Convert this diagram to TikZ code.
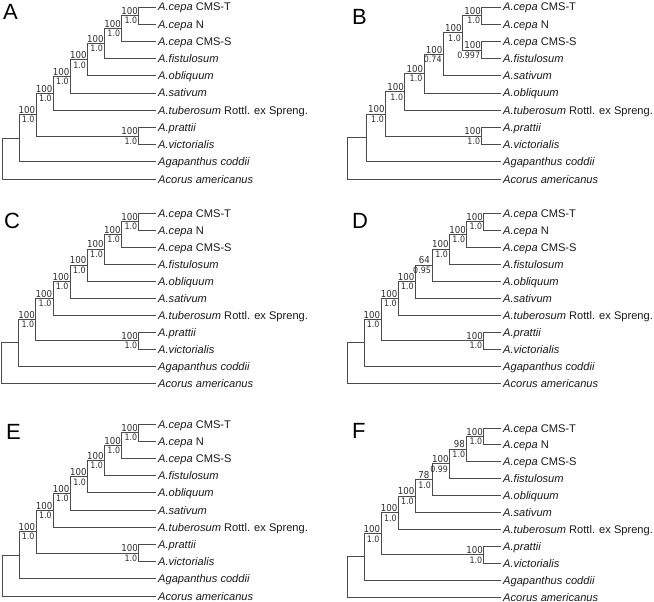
\documentclass[tikz,border=0pt]{standalone}
\usepackage{fontspec}
\setmainfont{Liberation Sans}
\newfontfamily\numfont{DejaVu Sans Condensed}
\definecolor{brcol}{RGB}{75,75,75}
\definecolor{txtcol}{RGB}{25,25,25}
\definecolor{numcol}{RGB}{45,45,45}
\tikzset{
  br/.style={draw=brcol, line width=0.9pt},
  leaftxt/.style={inner sep=0pt, anchor=base west, font=\fontsize{11.1}{13}\selectfont, text=txtcol},
  uplab/.style={inner sep=0pt, anchor=south east, font=\numfont\fontsize{9.6}{10}\selectfont, text=numcol},
  lolab/.style={inner sep=0pt, anchor=north east, font=\numfont\fontsize{8.8}{10}\selectfont, text=numcol},
  panlab/.style={inner sep=0pt, anchor=base west, font=\fontsize{22}{24}\selectfont, text=black},
}
% A-type tree: #1 prefix, #2 x0, #3 level step, #4 first leaf y, #5 leaf step
\newcommand\treeA[5]{%
\begin{scope}[name prefix=#1-]
 \coordinate (root) at (#2, {#4+8.814453*#5});
 \coordinate (n1) at ({#2+1*#3}, {#4+7.628906*#5});
 \coordinate (n2) at ({#2+2*#3}, {#4+6.257813*#5});
 \coordinate (n3) at ({#2+3*#3}, {#4+5.015625*#5});
 \coordinate (n4) at ({#2+4*#3}, {#4+4.03125*#5});
 \coordinate (n5) at ({#2+5*#3}, {#4+3.0625*#5});
 \coordinate (n6) at ({#2+6*#3}, {#4+2.125*#5});
 \coordinate (n7) at ({#2+7*#3}, {#4+1.25*#5});
 \coordinate (n8) at ({#2+8*#3}, {#4+0.5*#5});
 \coordinate (pv) at ({#2+8*#3}, {#4+7.5*#5});
 \coordinate (lT)  at ({#2+9*#3}, {#4+0*#5});
 \coordinate (lN)  at ({#2+9*#3}, {#4+1*#5});
 \coordinate (lS)  at ({#2+9*#3}, {#4+2*#5});
 \coordinate (lfi) at ({#2+9*#3}, {#4+3*#5});
 \coordinate (lob) at ({#2+9*#3}, {#4+4*#5});
 \coordinate (lsa) at ({#2+9*#3}, {#4+5*#5});
 \coordinate (ltu) at ({#2+9*#3}, {#4+6*#5});
 \coordinate (lpr) at ({#2+9*#3}, {#4+7*#5});
 \coordinate (lvi) at ({#2+9*#3}, {#4+8*#5});
 \coordinate (lag) at ({#2+9*#3}, {#4+9*#5});
 \coordinate (lac) at ({#2+9*#3}, {#4+10*#5});
 \node[leaftxt] (T)  at ([xshift=2pt,yshift=-4pt]lT)  {\textit{A.cepa} CMS-T};
 \node[leaftxt] (N)  at ([xshift=2pt,yshift=-4pt]lN)  {\textit{A.cepa} N};
 \node[leaftxt] (S)  at ([xshift=2pt,yshift=-4pt]lS)  {\textit{A.cepa} CMS-S};
 \node[leaftxt] (fi) at ([xshift=2pt,yshift=-4pt]lfi) {\textit{A.fistulosum}};
 \node[leaftxt] (ob) at ([xshift=2pt,yshift=-4pt]lob) {\textit{A.obliquum}};
 \node[leaftxt] (sa) at ([xshift=2pt,yshift=-4pt]lsa) {\textit{A.sativum}};
 \node[leaftxt] (tu) at ([xshift=2pt,yshift=-4pt]ltu) {\textit{A.tuberosum} Rottl. ex Spreng.};
 \node[leaftxt] (pr) at ([xshift=2pt,yshift=-4pt]lpr) {\textit{A.prattii}};
 \node[leaftxt] (vi) at ([xshift=2pt,yshift=-4pt]lvi) {\textit{A.victorialis}};
 \node[leaftxt] (ag) at ([xshift=2pt,yshift=-4pt]lag) {\textit{Agapanthus coddii}};
 \node[leaftxt] (ac) at ([xshift=2pt,yshift=-4pt]lac) {\textit{Acorus americanus}};
 \draw[br] (root) |- (n1); \draw[br] (root) |- (lac);
 \draw[br] (n1) |- (n2);   \draw[br] (n1) |- (lag);
 \draw[br] (n2) |- (n3);   \draw[br] (n2) |- (pv);
 \draw[br] (pv) |- (lpr);  \draw[br] (pv) |- (lvi);
 \draw[br] (n3) |- (n4);   \draw[br] (n3) |- (ltu);
 \draw[br] (n4) |- (n5);   \draw[br] (n4) |- (lsa);
 \draw[br] (n5) |- (n6);   \draw[br] (n5) |- (lob);
 \draw[br] (n6) |- (n7);   \draw[br] (n6) |- (lfi);
 \draw[br] (n7) |- (n8);   \draw[br] (n7) |- (lS);
 \draw[br] (n8) |- (lT);   \draw[br] (n8) |- (lN);
\end{scope}}
% B-type tree
\newcommand\treeB[5]{%
\begin{scope}[name prefix=#1-]
 \coordinate (root) at (#2, {#4+8.804688*#5});
 \coordinate (m1) at ({#2+1*#3}, {#4+7.609375*#5});
 \coordinate (m2) at ({#2+2*#3}, {#4+6.21875*#5});
 \coordinate (m3) at ({#2+3*#3}, {#4+4.9375*#5});
 \coordinate (m4) at ({#2+4*#3}, {#4+3.875*#5});
 \coordinate (m5) at ({#2+5*#3}, {#4+2.75*#5});
 \coordinate (m6) at ({#2+6*#3}, {#4+1.5*#5});
 \coordinate (tn) at ({#2+7*#3}, {#4+0.5*#5});
 \coordinate (sf) at ({#2+7*#3}, {#4+2.5*#5});
 \coordinate (pv) at ({#2+7*#3}, {#4+7.5*#5});
 \coordinate (lT)  at ({#2+8*#3}, {#4+0*#5});
 \coordinate (lN)  at ({#2+8*#3}, {#4+1*#5});
 \coordinate (lS)  at ({#2+8*#3}, {#4+2*#5});
 \coordinate (lfi) at ({#2+8*#3}, {#4+3*#5});
 \coordinate (lsa) at ({#2+8*#3}, {#4+4*#5});
 \coordinate (lob) at ({#2+8*#3}, {#4+5*#5});
 \coordinate (ltu) at ({#2+8*#3}, {#4+6*#5});
 \coordinate (lpr) at ({#2+8*#3}, {#4+7*#5});
 \coordinate (lvi) at ({#2+8*#3}, {#4+8*#5});
 \coordinate (lag) at ({#2+8*#3}, {#4+9*#5});
 \coordinate (lac) at ({#2+8*#3}, {#4+10*#5});
 \node[leaftxt] (T)  at ([xshift=2pt,yshift=-4pt]lT)  {\textit{A.cepa} CMS-T};
 \node[leaftxt] (N)  at ([xshift=2pt,yshift=-4pt]lN)  {\textit{A.cepa} N};
 \node[leaftxt] (S)  at ([xshift=2pt,yshift=-4pt]lS)  {\textit{A.cepa} CMS-S};
 \node[leaftxt] (fi) at ([xshift=2pt,yshift=-4pt]lfi) {\textit{A.fistulosum}};
 \node[leaftxt] (sa) at ([xshift=2pt,yshift=-4pt]lsa) {\textit{A.sativum}};
 \node[leaftxt] (ob) at ([xshift=2pt,yshift=-4pt]lob) {\textit{A.obliquum}};
 \node[leaftxt] (tu) at ([xshift=2pt,yshift=-4pt]ltu) {\textit{A.tuberosum} Rottl. ex Spreng.};
 \node[leaftxt] (pr) at ([xshift=2pt,yshift=-4pt]lpr) {\textit{A.prattii}};
 \node[leaftxt] (vi) at ([xshift=2pt,yshift=-4pt]lvi) {\textit{A.victorialis}};
 \node[leaftxt] (ag) at ([xshift=2pt,yshift=-4pt]lag) {\textit{Agapanthus coddii}};
 \node[leaftxt] (ac) at ([xshift=2pt,yshift=-4pt]lac) {\textit{Acorus americanus}};
 \draw[br] (root) |- (m1); \draw[br] (root) |- (lac);
 \draw[br] (m1) |- (m2);   \draw[br] (m1) |- (lag);
 \draw[br] (m2) |- (m3);   \draw[br] (m2) |- (pv);
 \draw[br] (pv) |- (lpr);  \draw[br] (pv) |- (lvi);
 \draw[br] (m3) |- (m4);   \draw[br] (m3) |- (ltu);
 \draw[br] (m4) |- (m5);   \draw[br] (m4) |- (lob);
 \draw[br] (m5) |- (m6);   \draw[br] (m5) |- (lsa);
 \draw[br] (m6) |- (tn);   \draw[br] (m6) |- (sf);
 \draw[br] (tn) |- (lT);   \draw[br] (tn) |- (lN);
 \draw[br] (sf) |- (lS);   \draw[br] (sf) |- (lfi);
\end{scope}}
% branch support labels: [upper xshift]{node}{bootstrap}{posterior}
\newcommand\blab[4][-0.8pt]{%
 \node[uplab] (#2u) at ([xshift=#1,yshift=0.8pt]#2) {#3};
 \node[lolab] (#2l) at ([xshift=-1.5pt,yshift=-1.6pt]#2) {#4};}
\begin{document}
\begin{tikzpicture}[x=1pt,y=-1pt]
\useasboundingbox (0,0) rectangle (654,602);
% panel letters
\node[panlab] (LA) at (3,20) {A};
\node[panlab] (LB) at (352,25) {B};
\node[panlab] (LC) at (4,228) {C};
\node[panlab] (LD) at (352,228) {D};
\node[panlab] (LE) at (6,439) {E};
\node[panlab] (LF) at (352,438) {F};
% trees
\treeA{A}{2}{17.11}{7}{17.2}
\treeB{B}{347}{19.25}{7}{17.2}
\treeA{C}{1.5}{17.17}{213}{17}
\treeA{D}{347}{17.11}{213}{17}
\treeA{E}{2}{17.11}{424}{17.2}
\treeA{F}{347}{17.11}{428}{16.9}
% supports A
\blab{A-n8}{100}{1.0}\blab{A-n7}{100}{1.0}\blab{A-n6}{100}{1.0}\blab{A-n5}{100}{1.0}
\blab{A-n4}{100}{1.0}\blab{A-n3}{100}{1.0}\blab{A-n2}{100}{1.0}\blab{A-pv}{100}{1.0}
% supports B
\blab{B-tn}{100}{1.0}\blab{B-m6}{100}{1.0}\blab{B-sf}{100}{0.997}\blab{B-m5}{100}{0.74}
\blab{B-m4}{100}{1.0}\blab{B-m3}{100}{1.0}\blab{B-m2}{100}{1.0}\blab{B-pv}{100}{1.0}
% supports C
\blab{C-n8}{100}{1.0}\blab{C-n7}{100}{1.0}\blab{C-n6}{100}{1.0}\blab{C-n5}{100}{1.0}
\blab{C-n4}{100}{1.0}\blab{C-n3}{100}{1.0}\blab{C-n2}{100}{1.0}\blab{C-pv}{100}{1.0}
% supports D
\blab{D-n8}{100}{1.0}\blab{D-n7}{100}{1.0}\blab{D-n6}{100}{1.0}\blab[-2.6pt]{D-n5}{64}{0.95}
\blab{D-n4}{100}{1.0}\blab{D-n3}{100}{1.0}\blab{D-n2}{100}{1.0}\blab{D-pv}{100}{1.0}
% supports E
\blab{E-n8}{100}{1.0}\blab{E-n7}{100}{1.0}\blab{E-n6}{100}{1.0}\blab{E-n5}{100}{1.0}
\blab{E-n4}{100}{1.0}\blab{E-n3}{100}{1.0}\blab{E-n2}{100}{1.0}\blab{E-pv}{100}{1.0}
% supports F
\blab{F-n8}{100}{1.0}\blab[-1.8pt]{F-n7}{98}{1.0}\blab{F-n6}{100}{0.99}\blab[-3pt]{F-n5}{78}{1.0}
\blab{F-n4}{100}{1.0}\blab{F-n3}{100}{1.0}\blab{F-n2}{100}{1.0}\blab{F-pv}{100}{1.0}
\end{tikzpicture}
\end{document}
